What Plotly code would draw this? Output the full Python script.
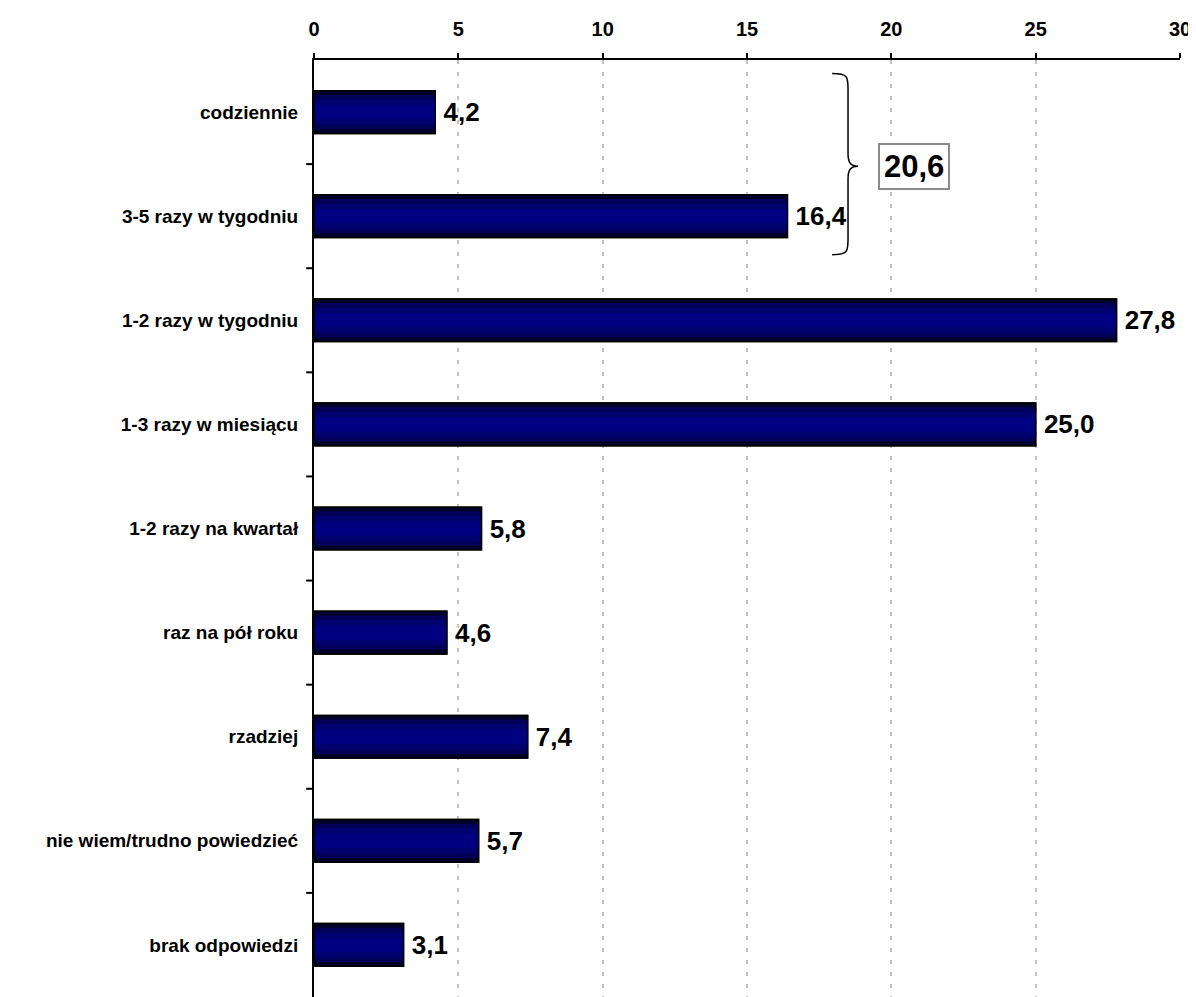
import plotly.graph_objects as go

categories = ["codziennie", "3-5 razy w tygodniu", "1-2 razy w tygodniu", "1-3 razy w miesiącu",
              "1-2 razy na kwartał", "raz na pół roku", "rzadziej", "nie wiem/trudno powiedzieć",
              "brak odpowiedzi"]
values = [4.2, 16.4, 27.8, 25.0, 5.8, 4.6, 7.4, 5.7, 3.1]
group_total = 20.6
x_ticks = [0, 5, 10, 15, 20, 25, 30]

FONT = "Arial, Liberation Sans, sans-serif"
labels = ["\u2009" + f"{v:.1f}".replace(".", ",") for v in values]

fig = go.Figure()
# layered bars to mimic the dark-edged gradient fill
layers = [(0.41, "#00002a", "black", 1.5), (0.33, "#000058", None, 0), (0.24, "#00006e", None, 0), (0.14, "#000080", None, 0)]
for i, (w, col, lc, lw) in enumerate(layers):
    fig.add_trace(go.Bar(
        y=list(range(len(categories))), x=values, orientation="h", width=w,
        marker=dict(color=col, line=dict(color=lc or col, width=lw)),
        text=labels if i == 0 else None,
        textposition="outside" if i == 0 else "none",
        textfont=dict(family=FONT, size=26, color="black", weight="bold"),
        cliponaxis=False, hoverinfo="skip", showlegend=False,
    ))
# redraw outline on top
fig.add_trace(go.Bar(
    y=list(range(len(categories))), x=values, orientation="h", width=0.41,
    marker=dict(color="rgba(0,0,0,0)", line=dict(color="black", width=1.5)),
    hoverinfo="skip", showlegend=False,
))

fig.update_layout(
    barmode="overlay",
    width=1188, height=989,
    margin=dict(l=306, r=16, t=52, b=0),
    plot_bgcolor="white", paper_bgcolor="white",
    font=dict(family=FONT, color="black"),
    xaxis=dict(side="top", range=[0, 30], tickvals=x_ticks, ticktext=[str(t) for t in x_ticks],
               showgrid=True, gridcolor="#c0c0c0", gridwidth=2, griddash="4px,8px",
               showline=True, linecolor="black", linewidth=2,
               ticks="outside", ticklen=5, tickwidth=2, tickcolor="black",
               ticklabelstandoff=9, automargin=False,
               tickfont=dict(family=FONT, size=20, weight="bold"), zeroline=False),
    yaxis=dict(range=[8.5, -0.5], tickvals=list(range(len(categories))), ticktext=categories,
               showgrid=False, showline=True, linecolor="black", linewidth=2,
               ticks="", tickfont=dict(family=FONT, size=19, weight="bold"),
               ticklabelstandoff=10, automargin=False, zeroline=False),
)

# boundary tick marks on the y axis
for k in range(1, len(categories)):
    fig.add_shape(type="line", xref="paper", yref="y", x0=-0.009, x1=0, y0=k - 0.5, y1=k - 0.5,
                  line=dict(color="black", width=2))

# curly brace grouping first two bars
xb, xm, xt = 17.95, 18.5, 18.85
ytop, ymid, ybot = -0.37, 0.52, 1.37
path = (f"M {xb},{ytop} C {xm},{ytop} {xm},{ytop+0.03} {xm},{ytop+0.15} "
        f"L {xm},{ymid-0.12} C {xm},{ymid-0.03} {xm+0.1},{ymid} {xt},{ymid} "
        f"C {xm+0.1},{ymid} {xm},{ymid+0.03} {xm},{ymid+0.12} "
        f"L {xm},{ybot-0.15} C {xm},{ybot-0.03} {xm},{ybot} {xb},{ybot}")
fig.add_shape(type="path", path=path, xref="x", yref="y", line=dict(color="black", width=1.5))

fig.add_annotation(x=20.78, y=0.52, xref="x", yref="y",
                   text=f"{group_total:.1f}".replace(".", ","), showarrow=False,
                   font=dict(family=FONT, size=31, color="black", weight="bold"),
                   bgcolor="white", bordercolor="#8a8a8a", borderwidth=2, borderpad=4)

fig.write_html("out.html")
